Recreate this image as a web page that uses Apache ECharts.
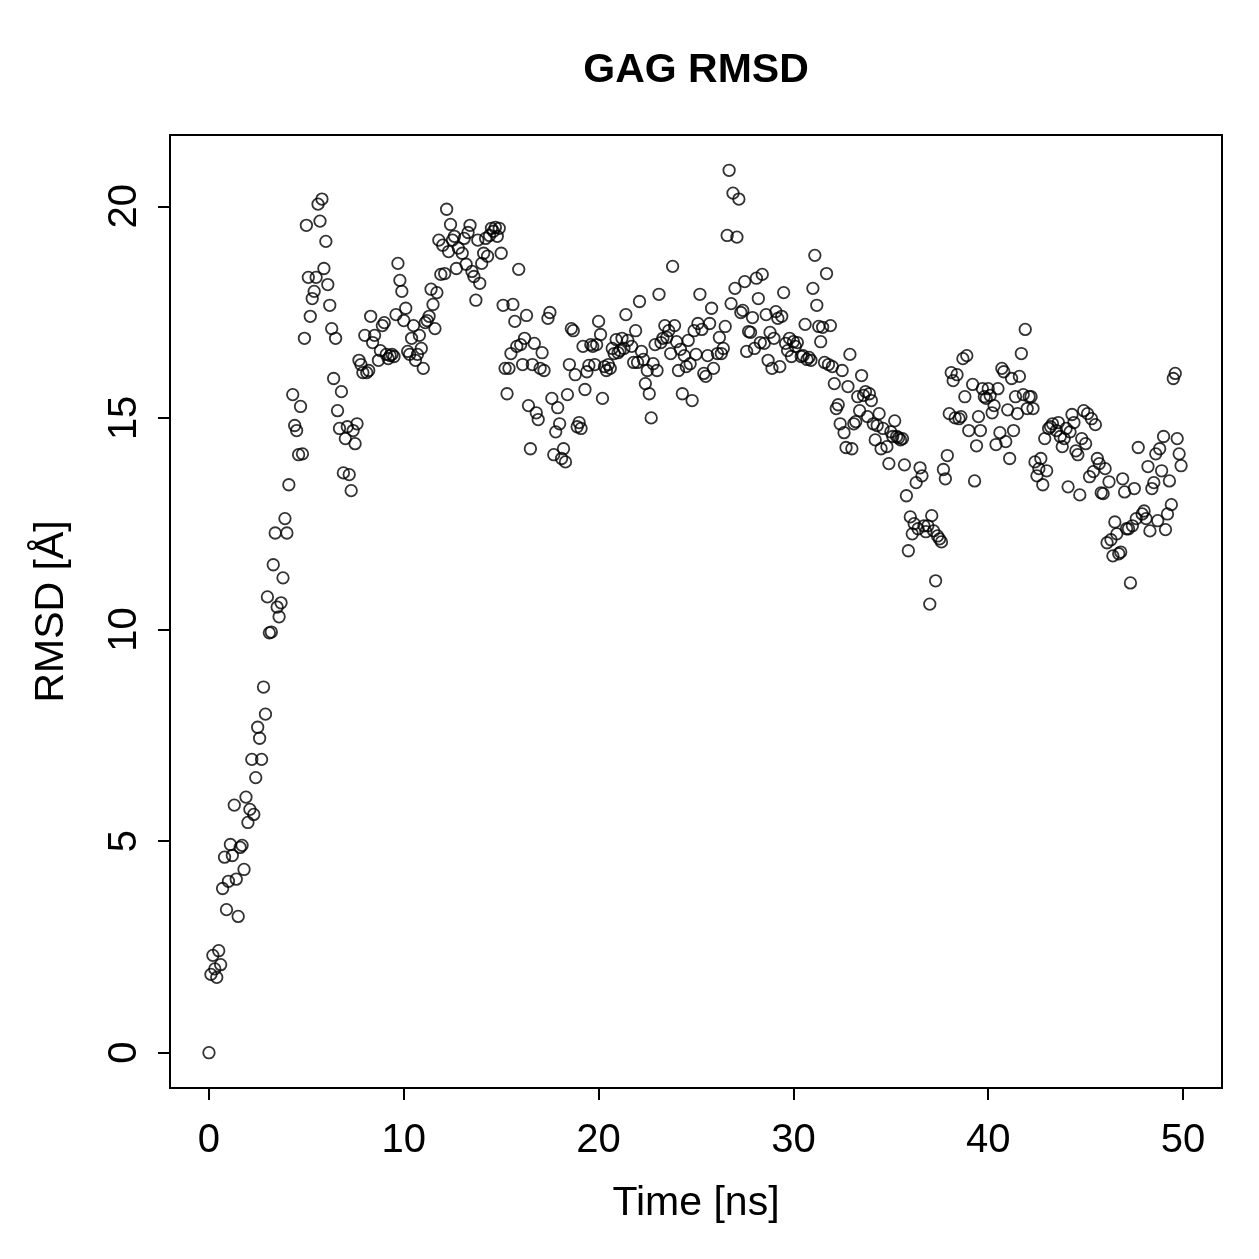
<!DOCTYPE html>
<html>
<head>
<meta charset="utf-8">
<script src="https://cdn.jsdelivr.net/npm/echarts@6/dist/echarts.min.js"></script>
<style>html,body{margin:0;padding:0;background:#fff}#c{width:1259px;height:1259px}</style>
</head>
<body>
<div id="c"></div>
<script>
const chartTitle = "GAG RMSD";
const xName = "Time [ns]";
const yName = "RMSD [Å]";
const xTicks = [0, 10, 20, 30, 40, 50];
const yTicks = [0, 5, 10, 15, 20];

const time = [
0,0.1,0.2,0.3,0.4,0.5,0.6,0.7,0.8,0.9,
1,1.1,1.2,1.3,1.4,1.5,1.6,1.7,1.8,1.9,
2,2.1,2.2,2.3,2.4,2.5,2.6,2.7,2.8,
2.9,3,3.1,3.2,3.3,3.4,3.5,3.6,3.7,3.8,
3.9,4,4.1,4.3,4.4,4.5,4.6,4.7,4.8,4.9,
5,5.1,5.2,5.3,5.4,5.5,5.6,5.7,5.8,5.9,
6,6.1,6.2,6.3,6.4,6.5,6.6,6.7,6.8,6.9,
7,7.1,7.2,7.3,7.4,7.5,7.6,7.7,7.8,7.9,
8,8.1,8.2,8.3,8.4,8.5,8.7,8.8,8.9,9,
9.1,9.2,9.3,9.4,9.5,9.6,9.7,9.8,9.9,10,
10.1,10.2,10.3,10.4,10.5,10.6,10.7,10.8,10.9,11,
11.1,11.2,11.3,11.4,11.5,11.6,11.7,11.8,11.9,12,
12.1,12.2,12.3,12.4,12.5,12.6,12.7,12.8,13,13.1,
13.2,13.3,13.4,13.5,13.6,13.7,13.8,13.9,14,14.1,
14.2,14.3,14.4,14.5,14.6,14.7,14.8,14.9,15,15.1,
15.2,15.3,15.4,15.5,15.6,15.7,15.8,15.9,16,16.1,
16.2,16.3,16.4,16.5,16.6,16.7,16.8,16.9,17,17.1,
17.2,17.4,17.5,17.6,17.7,17.8,17.9,18,18.1,18.2,
18.3,18.4,18.5,18.6,18.7,18.8,18.9,19,19.1,19.2,
19.3,19.4,19.5,19.6,19.7,19.8,19.9,20,20.1,20.2,
20.3,20.4,20.5,20.6,20.7,20.8,20.9,21,21.1,21.2,
21.3,21.4,21.5,21.7,21.8,21.9,22,22.1,22.2,22.3,
22.4,22.5,22.6,22.7,22.8,22.9,23,23.1,23.2,23.3,
23.4,23.5,23.6,23.7,23.8,23.9,24,24.1,24.2,24.3,
24.4,24.5,24.6,24.7,24.8,24.9,25,25.1,25.2,25.3,
25.4,25.5,25.6,25.7,25.8,25.9,26.1,26.2,26.3,26.4,
26.5,26.6,26.7,26.8,26.9,27,27.1,27.2,27.3,27.4,
27.5,27.6,27.7,27.8,27.9,28,28.1,28.2,28.3,28.4,
28.5,28.6,28.7,28.8,28.9,29,29.1,29.2,29.3,29.4,
29.5,29.6,29.7,29.8,29.9,30,30.1,30.2,30.4,30.5,
30.6,30.7,30.8,30.9,31,31.1,31.2,31.3,31.4,31.5,
31.6,31.7,31.8,31.9,32,32.1,32.2,32.3,32.4,32.5,
32.6,32.7,32.8,32.9,33,33.1,33.2,33.3,33.4,33.5,
33.6,33.7,33.8,33.9,34,34.1,34.2,34.3,34.4,34.5,
34.6,34.8,34.9,35,35.1,35.2,35.3,35.4,35.5,35.6,
35.7,35.8,35.9,36,36.1,36.2,36.3,36.4,36.5,36.6,
36.7,36.8,36.9,37,37.1,37.2,37.3,37.4,37.5,37.6,
37.7,37.8,37.9,38,38.1,38.2,38.3,38.4,38.5,38.6,
38.7,38.8,38.9,39,39.2,39.3,39.4,39.5,39.6,39.7,
39.8,39.9,40,40.1,40.2,40.3,40.4,40.5,40.6,40.7,
40.8,40.9,41,41.1,41.2,41.3,41.4,41.5,41.6,41.7,
41.8,41.9,42,42.1,42.2,42.3,42.4,42.5,42.6,42.7,
42.8,42.9,43,43.1,43.2,43.3,43.5,43.6,43.7,43.8,
43.9,44,44.1,44.2,44.3,44.4,44.5,44.6,44.7,44.8,
44.9,45,45.1,45.2,45.3,45.4,45.5,45.6,45.7,45.8,
45.9,46,46.1,46.2,46.3,46.4,46.5,46.6,46.7,46.8,
46.9,47,47.1,47.2,47.3,47.4,47.5,47.6,47.7,47.9,
48,48.1,48.2,48.3,48.4,48.5,48.6,48.7,48.8,48.9,
49,49.1,49.2,49.3,49.4,49.5,49.6,49.7,49.8,49.9
];

const rmsd = [
0,1.85,2.3,1.98,1.78,2.41,2.08,3.88,4.62,3.38,
4.05,4.92,4.66,5.85,4.1,3.22,4.85,4.9,4.33,6.04,
5.44,5.75,6.93,5.63,6.5,7.69,7.43,6.93,8.64,
8.0,10.77,9.92,9.94,11.53,12.28,10.53,10.3,10.63,11.22,
12.62,12.28,13.42,15.55,14.82,14.7,14.13,15.27,14.15,16.88,
19.55,18.32,17.4,17.82,17.99,18.32,20.05,19.65,20.17,18.53,
19.17,18.15,17.66,17.11,15.93,16.88,15.17,14.75,15.62,13.7,
14.51,14.79,13.66,13.28,14.7,14.39,14.86,16.36,16.26,16.07,
16.95,16.07,16.12,17.4,16.78,16.95,16.36,16.59,17.18,17.25,
16.5,16.4,16.47,16.5,16.45,17.44,18.65,18.25,17.99,17.3,
17.59,16.57,16.5,16.88,17.18,16.36,16.5,16.95,16.64,16.17,
17.25,17.3,17.4,18.04,17.68,17.11,17.96,19.2,18.39,19.08,
18.41,19.93,18.93,19.57,19.2,19.29,18.53,19.01,18.89,19.24,
18.63,19.38,19.55,18.46,18.34,17.78,19.2,18.18,18.65,18.89,
19.24,18.82,19.31,19.48,19.41,19.5,19.29,19.48,18.89,17.66,
16.17,15.57,16.17,16.52,17.68,17.28,16.69,18.51,16.73,16.26,
16.88,17.42,15.29,14.27,16.26,16.76,15.12,14.96,16.17,16.54,
16.12,17.35,17.49,15.46,14.13,14.67,15.24,14.86,14.04,14.27,
13.96,15.55,16.26,17.11,17.06,16.02,14.79,14.89,14.75,16.69,
15.67,16.09,16.24,16.73,16.69,16.26,16.73,17.28,16.97,15.46,
16.21,16.12,16.26,16.17,16.64,16.52,16.85,16.54,16.59,16.88,
16.64,17.44,16.83,16.69,16.31,17.06,16.31,17.75,16.57,16.38,
15.81,16.12,15.57,15.0,16.28,16.73,16.12,17.92,16.78,16.88,
17.18,16.9,17.06,16.52,18.58,17.18,16.8,16.12,16.62,15.57,
16.47,16.21,16.83,16.28,15.41,17.06,16.5,17.23,17.92,17.09,
16.05,15.98,16.47,17.23,17.59,16.17,16.52,16.9,16.52,16.64,
17.16,19.31,20.85,17.7,20.31,18.06,19.27,20.17,17.49,17.54,
18.22,16.57,17.04,17.02,17.37,16.64,18.3,17.82,16.78,18.39,
16.76,17.44,16.36,17.02,16.17,16.88,17.51,17.35,16.21,17.4,
17.96,16.76,16.59,16.88,16.45,16.8,16.69,16.78,16.45,16.47,
17.21,16.38,16.43,16.36,18.06,18.84,17.66,17.16,16.8,17.14,
16.31,18.41,16.26,17.18,16.21,15.81,15.22,15.31,14.86,16.12,
14.65,14.3,15.74,16.5,14.27,14.86,14.91,15.5,15.17,16.0,
15.53,15.62,15.03,15.57,15.41,14.86,14.48,14.82,15.1,14.27,
14.75,14.32,13.92,14.67,14.56,14.93,14.56,14.53,14.48,14.51,
13.89,13.16,11.86,12.66,12.26,12.5,13.47,12.38,13.82,13.63,
12.45,12.31,12.45,10.6,12.69,12.33,11.15,12.21,12.14,12.07,
13.78,13.56,14.11,15.1,16.07,15.88,15.0,16.02,14.98,15.03,
16.4,15.5,16.47,14.7,15.79,13.51,14.34,15.03,14.7,15.69,
15.5,15.46,15.69,15.53,15.12,15.29,14.37,15.69,14.65,16.17,
16.09,14.44,15.19,14.04,15.93,14.7,15.5,15.1,15.98,16.52,
15.55,17.09,15.22,15.5,15.5,15.22,13.96,13.63,13.8,14.04,
13.42,14.51,13.75,14.75,14.79,14.86,14.7,14.89,14.56,14.32,
14.51,14.75,13.37,14.67,15.08,14.89,14.22,14.13,13.18,14.51,
15.17,14.39,15.1,13.61,14.98,13.73,14.84,14.04,13.92,13.23,
13.21,13.8,12.05,13.49,12.12,11.74,12.54,12.26,11.79,11.83,
13.56,13.25,12.38,12.38,11.1,12.45,13.33,12.62,14.3,12.73,
12.8,12.62,13.85,12.33,13.33,13.47,14.15,12.57,14.27,13.75,
14.56,12.36,12.73,13.51,12.95,15.93,16.05,14.51,14.15,13.87
];

const points = time.map((t, i) => [t, rmsd[i]]);
const FONT = '"Liberation Sans", Arial, Helvetica, sans-serif';

const chart = echarts.init(document.getElementById('c'), null, {renderer: 'canvas'});
chart.setOption({
  animation: false,
  backgroundColor: '#fff',
  title: {
    text: chartTitle,
    left: 691, top: 45,
    textAlign: 'center',
    textStyle: {fontFamily: FONT, fontSize: 41, fontWeight: 'bold', color: '#000'}
  },
  grid: {
    left: 170, top: 135, width: 1052, height: 953,
    show: true, borderColor: '#000', borderWidth: 2, backgroundColor: 'transparent'
  },
  xAxis: {
    type: 'value', min: -2, max: 52,
    name: xName, nameLocation: 'middle', nameGap: 95,
    nameTextStyle: {fontFamily: FONT, fontSize: 41, color: '#000'},
    axisLine: {show: false, onZero: false},
    splitLine: {show: false},
    axisTick: {show: true, inside: false, length: 12, customValues: xTicks, lineStyle: {color: '#000', width: 2}},
    axisLabel: {customValues: xTicks, fontFamily: FONT, fontSize: 40, color: '#000', margin: 33}
  },
  yAxis: {
    type: 'value', min: -0.834, max: 21.684,
    name: yName, nameLocation: 'middle', nameGap: 98, nameRotate: 90,
    nameTextStyle: {fontFamily: FONT, fontSize: 41, color: '#000'},
    axisLine: {show: false, onZero: false},
    splitLine: {show: false},
    axisTick: {show: true, inside: false, length: 12, customValues: yTicks, lineStyle: {color: '#000', width: 2}},
    axisLabel: {customValues: yTicks, rotate: 90, fontFamily: FONT, fontSize: 40, color: '#000', margin: 25}
  },
  series: [{
    type: 'scatter',
    data: points,
    symbol: 'circle',
    symbolSize: 11.5,
    itemStyle: {color: 'rgba(0,0,0,0)', borderColor: '#000', borderWidth: 1.8},
    emphasis: {disabled: true},
    silent: true
  }]
});
</script>
</body>
</html>
